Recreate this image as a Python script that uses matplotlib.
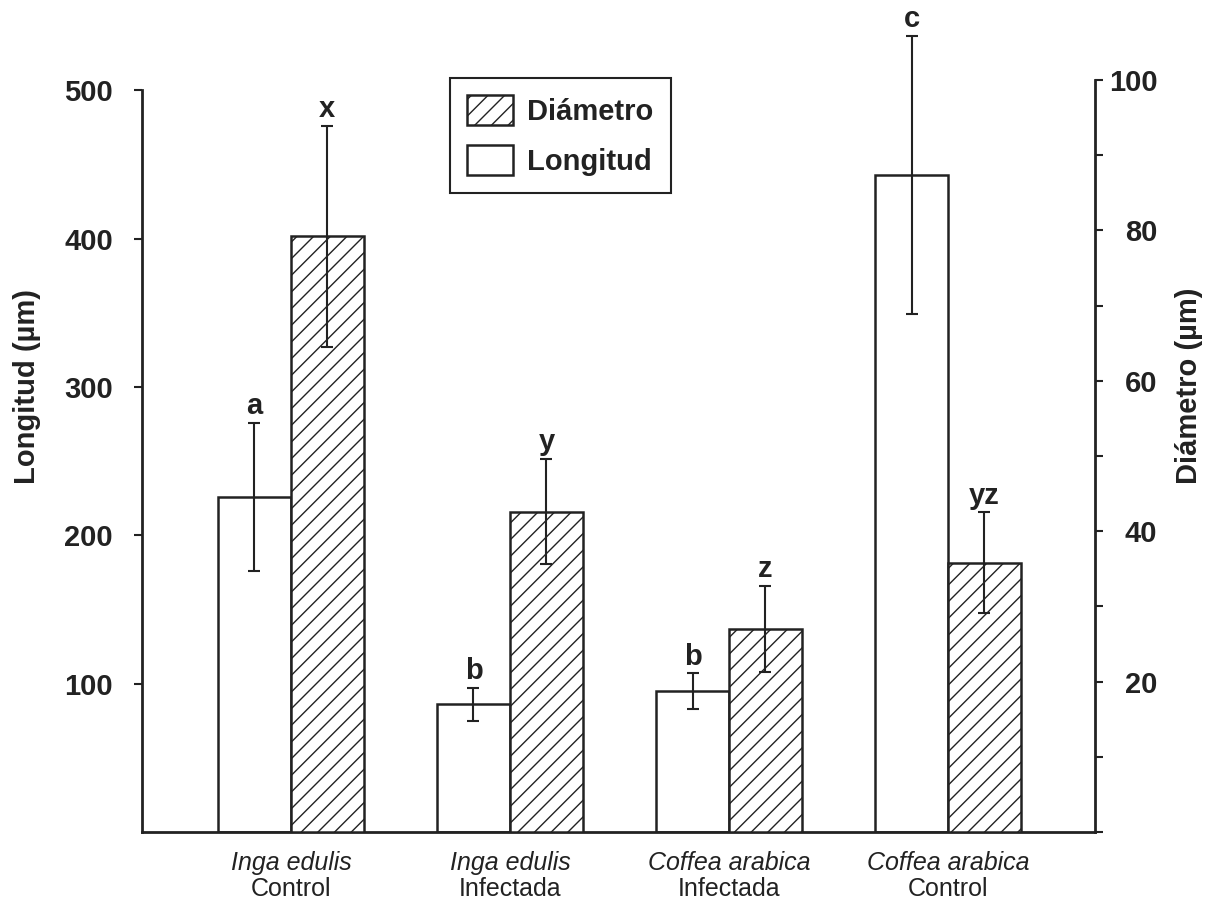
import numpy as np
import matplotlib.pyplot as plt
from matplotlib.ticker import MultipleLocator
from matplotlib.transforms import blended_transform_factory

plt.rcParams['font.family'] = ['Liberation Sans', 'DejaVu Sans']
plt.rcParams['hatch.linewidth'] = 1.0
plt.rcParams['hatch.color'] = '#222222'

INK = '#222222'

species = ["Inga edulis", "Inga edulis", "Coffea arabica", "Coffea arabica"]
treatments = ["Control", "Infectada", "Infectada", "Control"]

longitud = [226, 86, 95, 443]
longitud_err = [50, 11, 12, 94]
longitud_letters = ["a", "b", "b", "c"]

diametro = [79.2, 42.6, 27.0, 35.8]
diametro_err = [14.7, 7.0, 5.7, 6.7]
diametro_letters = ["x", "y", "z", "yz"]

x = np.arange(len(species))
width = 0.333

fig = plt.figure(figsize=(12.2, 9.07), dpi=100)
ax = fig.add_axes([0.1164, 0.0827, 0.7811, 0.8291])
ax2 = ax.twinx()

bar_kw = dict(width=width, color='white', edgecolor=INK, linewidth=1.8)
err_kw = dict(fmt='none', ecolor=INK, elinewidth=1.5, capsize=4.3, capthick=1.5)

b1 = ax.bar(x - width / 2, longitud, label='Longitud', **bar_kw)
eb1 = ax.errorbar(x - width / 2, longitud, yerr=longitud_err, **err_kw)
b2 = ax2.bar(x + width / 2, diametro, hatch='//', label='Diámetro', **bar_kw)
eb2 = ax2.errorbar(x + width / 2, diametro, yerr=diametro_err, **err_kw)
for eb in (eb1, eb2):
    for art in eb.get_children():
        art.set_clip_on(False)

txt_kw = dict(textcoords='offset points', ha='center', va='bottom',
              fontsize=21, fontweight='bold', color=INK, annotation_clip=False)
for xi, v, e, t in zip(x - width / 2, longitud, longitud_err, longitud_letters):
    ax.annotate(t, (xi, v + e), xytext=(0, 2), **txt_kw)
for xi, v, e, t in zip(x + width / 2, diametro, diametro_err, diametro_letters):
    ax2.annotate(t, (xi, v + e), xytext=(0, 2), **txt_kw)

ax.set_xlim(-0.68, 3.671)
ax.set_ylim(0, 507)
ax2.set_ylim(0, 100)

ax.set_yticks([100, 200, 300, 400, 500])
ax2.set_yticks([20, 40, 60, 80, 100])
ax2.yaxis.set_minor_locator(MultipleLocator(10))

ax.set_xticks(x)
ax.set_xticklabels([])
ax.tick_params(axis='x', length=0)
ax.tick_params(axis='y', direction='out', length=6, width=1.5, pad=15,
               labelsize=21, colors=INK)
for lab in ax.get_yticklabels():
    lab.set_fontweight('bold')
ax2.tick_params(axis='y', which='both', direction='out', length=6, width=1.5,
                pad=39, labelsize=21, colors=INK)
for lab in ax2.get_yticklabels():
    lab.set_fontweight('bold')
    lab.set_horizontalalignment('right')

trans = blended_transform_factory(ax.transData, ax.transAxes)
for xi, sp, tr in zip(x, species, treatments):
    ax.text(xi, -0.041, sp, transform=trans, ha='center', va='center',
            fontsize=18, fontstyle='italic', color=INK)
    ax.text(xi, -0.076, tr, transform=trans, ha='center', va='center',
            fontsize=18, color=INK)

for s in ['top', 'right']:
    ax.spines[s].set_visible(False)
for s in ['top', 'left', 'bottom']:
    ax2.spines[s].set_visible(False)
ax.spines['left'].set_bounds(0, 500)
for s in ['left', 'bottom']:
    ax.spines[s].set_linewidth(2)
    ax.spines[s].set_color(INK)
ax2.spines['right'].set_linewidth(2)
ax2.spines['right'].set_color(INK)

ax.set_ylabel('Longitud (µm)', fontsize=21, fontweight='bold', color=INK)
ax.yaxis.set_label_coords(-0.106, 0.593)
ax2.set_ylabel('Diámetro (µm)', fontsize=21, fontweight='bold', color=INK)
ax2.yaxis.set_label_coords(1.084, 0.593)

leg = ax2.legend([b2, b1], ['Diámetro', 'Longitud'], loc='upper left',
                 bbox_to_anchor=(0.323, 1.003), borderaxespad=0,
                 fancybox=False, framealpha=1, edgecolor=INK,
                 prop={'size': 21, 'weight': 'bold'},
                 handlelength=1.55, handleheight=1.2, handletextpad=0.5,
                 labelspacing=0.65, borderpad=0.6)
leg.get_frame().set_linewidth(1.5)
for t in leg.get_texts():
    t.set_color(INK)

fig.savefig('out.png', dpi=100)
